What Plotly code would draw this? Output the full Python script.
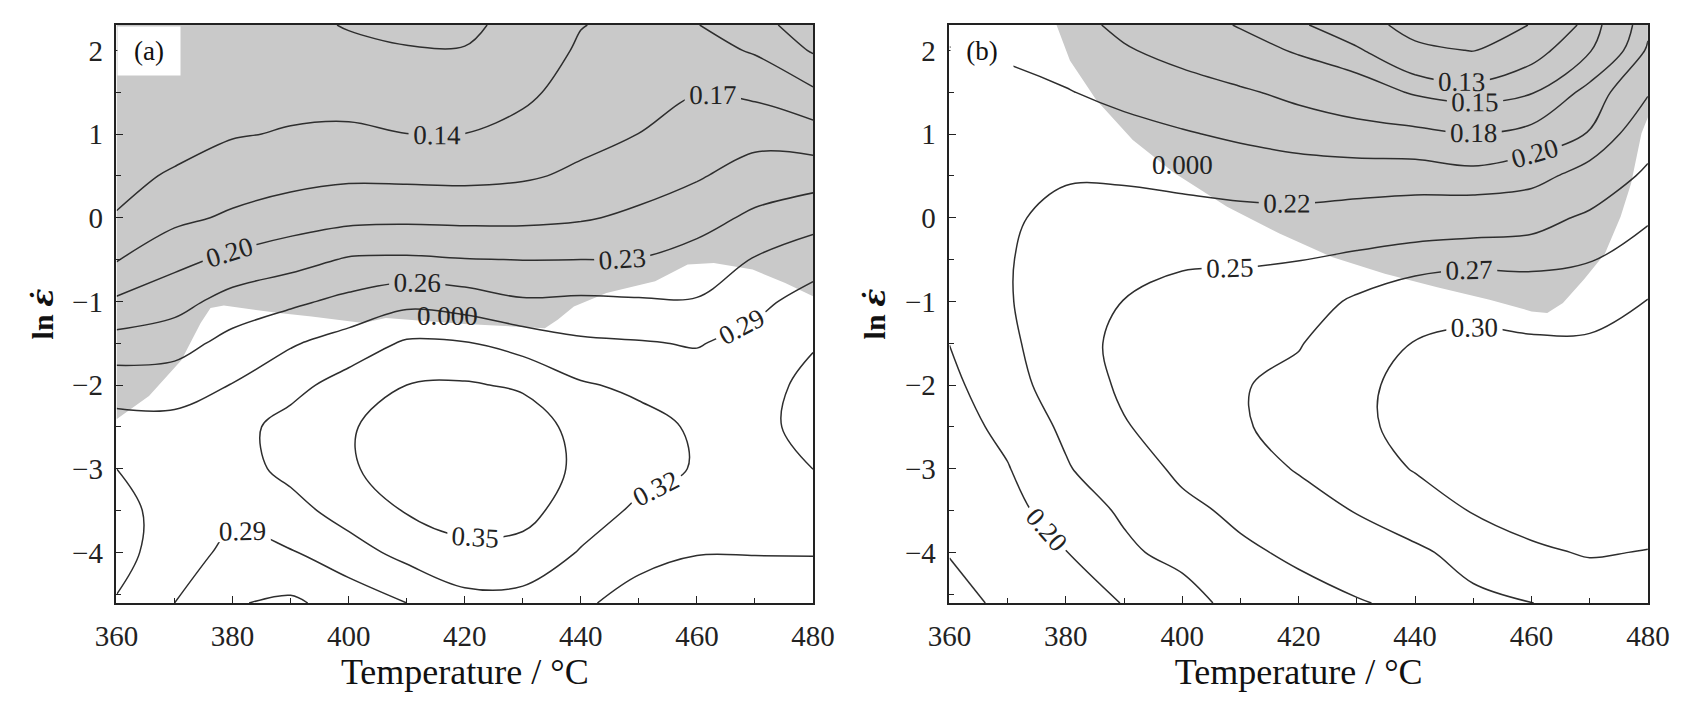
import plotly.graph_objects as go

# ---------------- data ----------------
temps = [360, 370, 380, 390, 400, 410, 420, 430, 440, 450, 460, 470, 480]
ln_rates = [-4.605, -4.0, -3.5, -3.0, -2.5, -2.0, -1.5, -1.0, -0.5, 0.0, 0.5, 1.0, 1.5, 2.0, 2.303]

x_ticks = [360, 380, 400, 420, 440, 460, 480]
y_ticks = [-4, -3, -2, -1, 0, 1, 2]

# power dissipation efficiency, panel (a): one list per temperature, values bottom -> top (ln strain rate)
eta_a_cols = [
    [0.318, 0.330, 0.328, 0.320, 0.301, 0.276, 0.242, 0.2045, 0.168, 0.141, 0.135, 0.130, 0.126, 0.123, 0.122],  # 360
    [0.290, 0.305, 0.310, 0.310, 0.300, 0.276, 0.248, 0.2185, 0.1916, 0.163, 0.142, 0.133, 0.128, 0.125, 0.124],  # 370
    [0.262, 0.282, 0.296, 0.308, 0.310, 0.291, 0.270, 0.242, 0.2064, 0.1744, 0.155, 0.138, 0.130, 0.126, 0.125],  # 380
    [0.255, 0.288, 0.310, 0.328, 0.330, 0.311, 0.287, 0.254, 0.2186, 0.185, 0.1605, 0.142, 0.132, 0.122, 0.118],  # 390
    [0.272, 0.308, 0.332, 0.347, 0.348, 0.332, 0.303, 0.2675, 0.2328, 0.192, 0.165, 0.145, 0.128, 0.117, 0.108],  # 400
    [0.290, 0.329, 0.352, 0.362, 0.360, 0.350, 0.324, 0.2818, 0.234, 0.1938, 0.164, 0.1402, 0.125, 0.1115, 0.104],  # 410
    [0.310, 0.343, 0.362, 0.372, 0.370, 0.353, 0.322, 0.275, 0.231, 0.1927, 0.163, 0.1402, 0.125, 0.111, 0.105],  # 420
    [0.310, 0.340, 0.360, 0.370, 0.366, 0.346, 0.308, 0.263, 0.2295, 0.1929, 0.1665, 0.149, 0.134, 0.122, 0.118],  # 430
    [0.294, 0.318, 0.334, 0.343, 0.340, 0.323, 0.295, 0.265, 0.230, 0.197, 0.1748, 0.162, 0.152, 0.144, 0.139],  # 440
    [0.280, 0.298, 0.315, 0.330, 0.330, 0.314, 0.292, 0.263, 0.231, 0.2056, 0.1867, 0.1702, 0.160, 0.152, 0.148],  # 450
    [0.275, 0.291, 0.305, 0.318, 0.316, 0.305, 0.288, 0.262, 0.241, 0.219, 0.197, 0.1833, 0.169, 0.151, 0.141],  # 460
    [0.275, 0.291, 0.303, 0.310, 0.314, 0.310, 0.300, 0.282, 0.262, 0.2355, 0.213, 0.190, 0.164, 0.137, 0.120],  # 470
    [0.278, 0.291, 0.305, 0.3202, 0.327, 0.327, 0.318, 0.302, 0.2766, 0.249, 0.217, 0.1826, 0.1447, 0.107, 0.095],  # 480
]
levels_a = dict(start=0.11, end=0.35, size=0.03)

# power dissipation efficiency, panel (b)
eta_b_cols = [
    [0.172, 0.181, 0.185, 0.188, 0.192, 0.196, 0.2002, 0.205, 0.209, 0.211, 0.211, 0.209, 0.205, 0.2005, 0.197],  # 360
    [0.185, 0.190, 0.194, 0.199, 0.205, 0.211, 0.215, 0.218, 0.218, 0.216, 0.213, 0.209, 0.204, 0.198, 0.195],  # 370
    [0.187, 0.1995, 0.209, 0.218, 0.224, 0.232, 0.236, 0.237, 0.235, 0.228, 0.2176, 0.209, 0.201, 0.192, 0.188],  # 380
    [0.201, 0.216, 0.223, 0.235, 0.248, 0.255, 0.258, 0.2505, 0.240, 0.230, 0.217, 0.206, 0.1948, 0.182, 0.175],  # 390
    [0.210, 0.227, 0.243, 0.256, 0.263, 0.267, 0.265, 0.258, 0.247, 0.228, 0.214, 0.2015, 0.189, 0.173, 0.163],  # 400
    [0.229, 0.245, 0.256, 0.263, 0.268, 0.268, 0.267, 0.262, 0.247, 0.226, 0.2107, 0.197, 0.183, 0.161, 0.148],  # 410
    [0.240, 0.255, 0.263, 0.2712, 0.277, 0.278, 0.268, 0.261, 0.2495, 0.2258, 0.2084, 0.1927, 0.1744, 0.147, 0.134],  # 420
    [0.249, 0.258, 0.271, 0.284, 0.292, 0.293, 0.290, 0.273, 0.2555, 0.230, 0.208, 0.1893, 0.1637, 0.1334, 0.112],  # 430
    [0.253, 0.266, 0.283, 0.302, 0.312, 0.310, 0.301, 0.283, 0.2615, 0.2338, 0.2085, 0.187, 0.147, 0.106, 0.090],  # 440
    [0.265, 0.278, 0.302, 0.318, 0.324, 0.322, 0.307, 0.289, 0.264, 0.2368, 0.206, 0.1805, 0.1397, 0.099, 0.085],  # 450
    [0.2695, 0.296, 0.310, 0.318, 0.320, 0.318, 0.304, 0.2855, 0.2637, 0.241, 0.211, 0.1896, 0.148, 0.121, 0.101],  # 460
    [0.283, 0.302, 0.311, 0.316, 0.318, 0.316, 0.304, 0.287, 0.2686, 0.2543, 0.2309, 0.201, 0.190, 0.148, 0.138],  # 470
    [0.290, 0.299, 0.312, 0.3202, 0.323, 0.322, 0.313, 0.301, 0.283, 0.267, 0.255, 0.238, 0.218, 0.203, 0.195],  # 480
]
levels_b = [0.10, 0.13, 0.15, 0.18, 0.20, 0.22, 0.25, 0.27, 0.30]

# instability domains (shaded): boundary (T, ln strain rate)
unstable_a_T = [360, 365.6, 371.2, 374.5, 376.2, 378.5, 388, 393.6, 402.5, 406.4, 420, 433.8, 436, 438.8,
                444.4, 452.8, 458.4, 462.9, 469.6, 475.2, 480, 480, 360]
unstable_a_ln = [-2.41, -2.13, -1.70, -1.26, -1.08, -1.05, -1.14, -1.18, -1.26, -1.20, -1.27, -1.32, -1.22, -1.06,
                 -0.90, -0.76, -0.56, -0.54, -0.62, -0.78, -0.94, 2.303, 2.303]
unstable_b_T = [378.4, 380.7, 385.2, 391.5, 398.7, 407.7, 416.7, 425.7, 434.8, 443.8, 452.8, 460, 462.7,
                465.4, 469, 472.6, 475.3, 477.1, 478.9, 480, 480]
unstable_b_ln = [2.303, 1.88, 1.41, 0.93, 0.53, 0.13, -0.19, -0.47, -0.67, -0.83, -0.98, -1.12, -1.14,
                 -1.02, -0.74, -0.43, 0.01, 0.41, 1.01, 1.20, 2.303]

# instability boundary value labels (position of the printed "0.000")
xi_label_a = (417, -1.18)
xi_label_b = (400, 0.63)

# ---------------- figure ----------------
def transpose(cols):
    return [list(r) for r in zip(*cols)]

def polygon_path(xs, ys):
    pts = [f"{x},{y}" for x, y in zip(xs, ys)]
    return "M " + " L ".join(pts) + " Z"

SERIF = "Liberation Serif, Times New Roman, serif"
LINE = "#2e2e2e"
GRAY = "#c9c9c9"

fig = go.Figure()

fig.add_trace(go.Contour(
    x=temps, y=ln_rates, z=transpose(eta_a_cols), xaxis="x", yaxis="y",
    contours=dict(coloring="none", showlabels=True, labelformat=".2f",
                  labelfont=dict(family=SERIF, size=27, color="#222"), **levels_a),
    line=dict(color=LINE, width=1.5, smoothing=1.0), showscale=False, hoverinfo="skip"))

for lev in levels_b:
    fig.add_trace(go.Contour(
        x=temps, y=ln_rates, z=transpose(eta_b_cols), xaxis="x2", yaxis="y2",
        contours=dict(coloring="none", showlabels=True, labelformat=".2f", start=lev, end=lev, size=0.005,
                      labelfont=dict(family=SERIF, size=27, color="#222")),
        line=dict(color=LINE, width=1.5, smoothing=1.0), showscale=False, hoverinfo="skip"))

for T, L, xr, yr in [(unstable_a_T, unstable_a_ln, "x", "y"), (unstable_b_T, unstable_b_ln, "x2", "y2")]:
    fig.add_shape(type="path", path=polygon_path(T, L), xref=xr, yref=yr, layer="below",
                  fillcolor=GRAY, line=dict(width=0))

W, H = 1705, 704
dom_y = [1 - 603 / H, 1 - 25 / H]
axis_common = dict(showline=True, linecolor="#222", linewidth=1.6, mirror=True, ticks="inside",
                   ticklen=7, tickwidth=1.3, tickcolor="#222", showgrid=False, zeroline=False,
                   tickfont=dict(family=SERIF, size=29, color="#222"))

xcommon = dict(axis_common, range=[360, 480], tickvals=x_ticks, ticklabelstandoff=6,
               minor=dict(dtick=10, tick0=360, ticks="inside", ticklen=5, tickcolor="#222"),
               title=dict(text="Temperature / °C", font=dict(family=SERIF, size=36, color="#111"), standoff=2))
ycommon = dict(axis_common, range=[-4.605, 2.303], tickvals=y_ticks, ticklabelstandoff=6,
               minor=dict(dtick=0.5, tick0=0, ticks="inside", ticklen=5, tickcolor="#222"),
               title=dict(text="<b>ln <span style='font-family:DejaVu Serif'><i>ε̇</i></span></b>",
                          font=dict(family=SERIF, size=30, color="#111"), standoff=10))

fig.update_layout(
    width=W, height=H, margin=dict(l=0, r=0, t=0, b=0),
    paper_bgcolor="white", plot_bgcolor="white", showlegend=False,
    xaxis=dict(xcommon, domain=[97 / W, 812 / W], anchor="y"),
    yaxis=dict(ycommon, domain=dom_y, anchor="x"),
    xaxis2=dict(xcommon, domain=[952 / W, 1669 / W], anchor="y2"),
    yaxis2=dict(ycommon, domain=dom_y, anchor="x2"),
)

for xr, yr, txt in [("x", "y", "(a)"), ("x2", "y2", "(b)")]:
    fig.add_annotation(xref=f"{xr} domain", yref=f"{yr} domain", x=0, y=1, xanchor="left", yanchor="top",
                       xshift=1, yshift=-1, width=60, height=46, bgcolor="white", showarrow=False,
                       text=txt, font=dict(family=SERIF, size=27, color="#111"))

for (tx, ty), xr, yr in [(xi_label_a, "x", "y"), (xi_label_b, "x2", "y2")]:
    fig.add_annotation(x=tx, y=ty, xref=xr, yref=yr, text="0.000", showarrow=False,
                       font=dict(family=SERIF, size=27, color="#222"))

fig.write_html("out.html", config={"displayModeBar": False},
               post_script="document.body.style.margin='0';")
